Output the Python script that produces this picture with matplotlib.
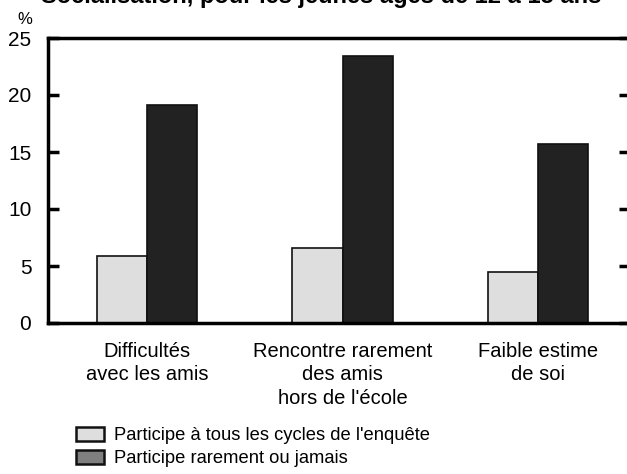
import numpy as np
import matplotlib
matplotlib.use("Agg")
import matplotlib.pyplot as plt
from matplotlib.patches import Patch

plt.rcParams['font.family'] = ['Liberation Sans', 'DejaVu Sans']

categories = ["Difficultés\navec les amis",
              "Rencontre rarement\ndes amis\nhors de l'école",
              "Faible estime\nde soi"]
tous_cycles = [5.9, 6.6, 4.5]
rarement = [19.1, 23.4, 15.7]
y_ticks = [0, 5, 10, 15, 20, 25]
legend_labels = ["Participe à tous les cycles de l'enquête",
                 "Participe rarement ou jamais"]
title = "Socialisation, pour les jeunes âgés de 12 à 15 ans"

fig = plt.figure(figsize=(6.27, 4.74), dpi=100)
ax = fig.add_axes([48 / 627, 1 - 323 / 474, 582 / 627, 285 / 474])

x = np.arange(len(categories))
w = 0.256
ax.bar(x - w / 2, tous_cycles, w, color='#dedede', edgecolor='#111111', linewidth=1.2, zorder=2)
ax.bar(x + w / 2, rarement, w, color='#222222', edgecolor='#111111', linewidth=1.2, zorder=2)

ax.set_xlim(-0.506, 2.47)
ax.set_ylim(0, 25)
ax.set_yticks(y_ticks)
ax.set_yticklabels([str(v) for v in y_ticks], fontsize=15)
ax.set_xticks(x)
ax.set_xticklabels(categories, fontsize=14.5, linespacing=1.3, va='top')
ax.tick_params(axis='x', length=0, pad=13.5)
ax.tick_params(axis='y', direction='in', length=8, width=2.5, pad=12, right=True)
for s in ['left', 'bottom', 'top', 'right']:
    ax.spines[s].set_linewidth(2.5)

fig.text(17 / 627, 1 - 24 / 474, "%", fontsize=12, ha='left', va='baseline')
fig.text(321 / 627, 1 - 3 / 474, title, fontsize=17, fontweight='bold',
         ha='center', va='baseline')

handles = [Patch(facecolor='#dedede', edgecolor='#111111', linewidth=1.8),
           Patch(facecolor='#7f7f7f', edgecolor='#111111', linewidth=1.8)]
fig.legend(handles, legend_labels, loc='upper left',
           bbox_to_anchor=(63 / 627, 1 - 414 / 474), frameon=False,
           fontsize=13.2, handlelength=1.55, handleheight=0.78,
           handletextpad=0.55, labelspacing=0.33, borderpad=0.2)

fig.savefig("out.png", dpi=100)
